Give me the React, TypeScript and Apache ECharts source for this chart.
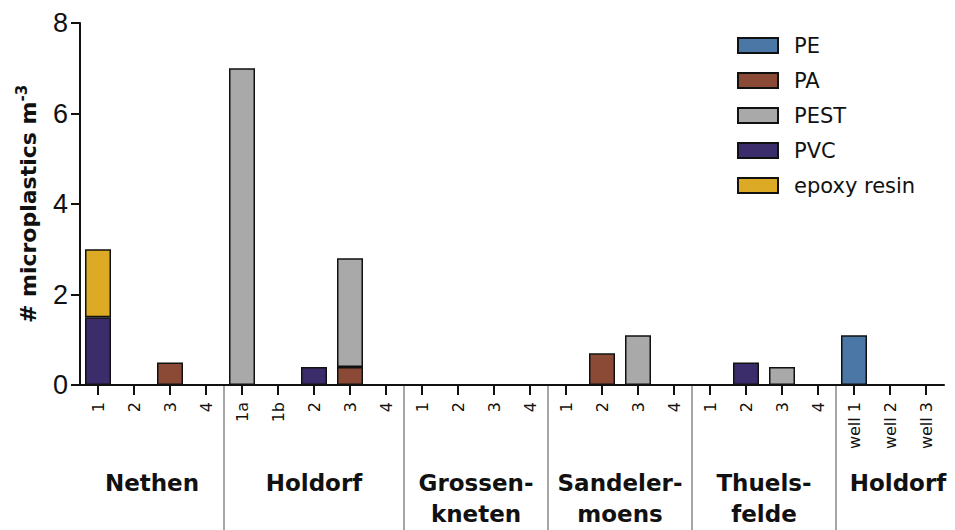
import React, { useEffect, useRef } from "react";
import * as echarts from "echarts";

const tickLabels = [
  "1", "2", "3", "4",
  "1a", "1b", "2", "3", "4",
  "1", "2", "3", "4",
  "1", "2", "3", "4",
  "1", "2", "3", "4",
  "well 1", "well 2", "well 3",
];
const groupNames = ["Nethen", "Holdorf", "Grossen-\nkneten", "Sandeler-\nmoens", "Thuels-\nfelde", "Holdorf"];
const groupSizes = [4, 5, 4, 4, 4, 3];

const seriesNames = ["PE", "PA", "PEST", "PVC", "epoxy resin"];
const seriesColors = ["#4A77A5", "#8A4A36", "#A9A9A9", "#3B2D6B", "#DCAA24"];

const PE = [null, null, null, null, null, null, null, null, null, null, null, null, null, null, null, null, null, null, null, null, null, 1.1, null, null];
const PA = [null, null, 0.5, null, null, null, null, 0.4, null, null, null, null, null, null, 0.7, null, null, null, null, null, null, null, null, null];
const PEST = [null, null, null, null, 7.0, null, null, 2.4, null, null, null, null, null, null, null, 1.1, null, null, null, 0.4, null, null, null, null];
const PVC = [1.5, null, null, null, null, null, 0.4, null, null, null, null, null, null, null, null, null, null, null, 0.5, null, null, null, null, null];
const EPOXY = [1.5, null, null, null, null, null, null, null, null, null, null, null, null, null, null, null, null, null, null, null, null, null, null, null];

const seriesData = [PE, PA, PEST, PVC, EPOXY];

export default function App() {
  const ref = useRef<HTMLDivElement>(null);
  useEffect(() => {
    if (!ref.current) return;
    const chart = echarts.init(ref.current, null, { renderer: "svg" });
    const option: any = {
      animation: false,
      backgroundColor: "#fff",
      grid: { left: 80, right: 11, top: 23, bottom: 145, containLabel: false, outerBoundsMode: "none" },
      legend: {
        orient: "vertical",
        left: 732,
        top: 30,
        itemWidth: 40,
        itemHeight: 15,
        itemGap: 14,
        icon: "rect",
        data: seriesNames,
        textStyle: { fontSize: 21, fontFamily: "DejaVu Sans", color: "#111", padding: [0, 0, 0, 11] },
      },
      xAxis: {
        type: "category",
        data: tickLabels,
        boundaryGap: true,
        axisLine: { show: true, lineStyle: { color: "#111", width: 2 } },
        axisTick: { show: true, alignWithLabel: true, length: 10, lineStyle: { color: "#111", width: 2 } },
        axisLabel: { interval: 0, rotate: 90, fontSize: 16, margin: 17, color: "#111", fontFamily: "DejaVu Sans" },
        splitLine: { show: false },
      },
      yAxis: {
        type: "value",
        min: 0,
        max: 8,
        interval: 2,
        name: "{a|# microplastics m}{s|-3}",
        nameLocation: "middle",
        nameGap: 38,
        nameRotate: 90,
        nameTextStyle: {
          rich: {
            a: { fontSize: 22, fontWeight: "bold", fontFamily: "DejaVu Sans", color: "#111", lineHeight: 28 },
            s: { fontSize: 15, fontWeight: "bold", fontFamily: "DejaVu Sans", color: "#111", verticalAlign: "top", lineHeight: 14 },
          },
        },
        axisLine: { show: true, lineStyle: { color: "#111", width: 2 } },
        axisTick: { show: true, length: 9, lineStyle: { color: "#111", width: 2 } },
        axisLabel: { fontSize: 27, margin: 12, color: "#111", fontFamily: "Liberation Sans" },
        splitLine: { show: false },
      },
      series: seriesNames.map((name, i) => ({
        name,
        type: "bar",
        stack: "total",
        barWidth: 26,
        data: seriesData[i].map((v) => (v == null ? "-" : v)),
        itemStyle: { color: seriesColors[i], borderColor: "#111", borderWidth: 1.5 },
      })),
    };
    chart.setOption(option);

    // separators and group labels computed from the category axis
    const px = (i: number) => chart.convertToPixel({ xAxisIndex: 0 }, i) as number;
    const step = px(1) - px(0);
    const axisY = chart.convertToPixel({ yAxisIndex: 0 }, 0) as number;
    const graphics: any[] = [];
    let start = 0;
    groupSizes.forEach((size, g) => {
      const left = px(start) - step / 2;
      const right = px(start + size - 1) + step / 2;
      if (g > 0) {
        graphics.push({
          type: "line",
          shape: { x1: left, y1: axisY, x2: left, y2: 530 },
          style: { stroke: "#8a8a8a", lineWidth: 1.5 },
        });
      }
      const isLast = g === groupSizes.length - 1;
      graphics.push({
        type: "text",
        x: (left + right) / 2 + (isLast ? 8 : 0),
        y: 467,
        style: {
          text: groupNames[g],
          fontSize: 23,
          fontWeight: "bold",
          fontFamily: "DejaVu Sans",
          fill: "#111",
          align: "center",
          verticalAlign: "top",
          lineHeight: 31,
        },
      });
      start += size;
    });
    chart.setOption({ graphic: graphics });

    return () => chart.dispose();
  }, []);
  return <div ref={ref} style={{ width: 955, height: 530, position: "absolute", left: 0, top: 0 }} />;
}
